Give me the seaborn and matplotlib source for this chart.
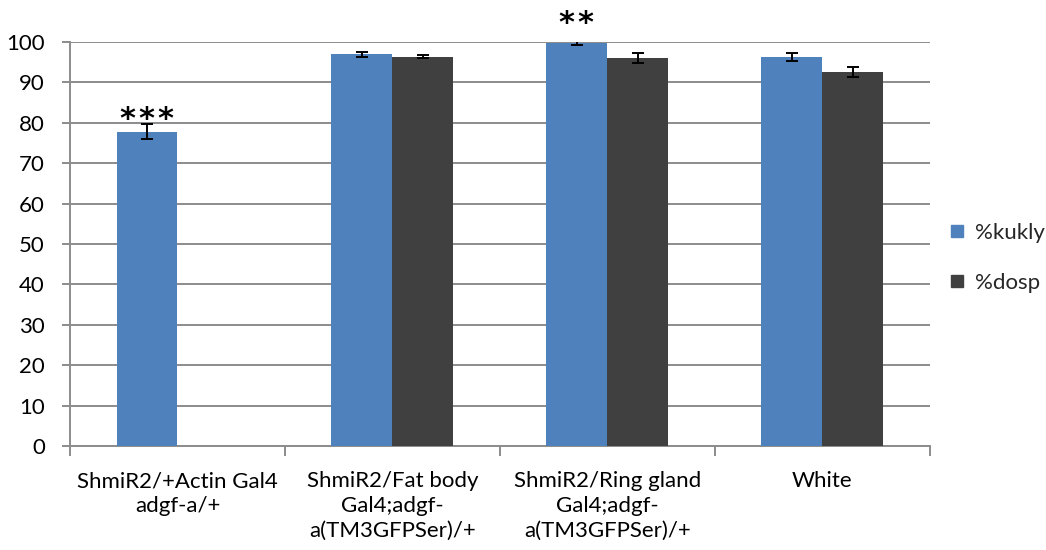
import numpy as np
import pandas as pd
import matplotlib
matplotlib.use("Agg")
import matplotlib.pyplot as plt
from matplotlib.lines import Line2D
import seaborn as sns

# Genotype groups (x axis) and the two measured percentages
categories = [
    "ShmiR2/+Actin Gal4\nadgf-a/+",
    "ShmiR2/Fat body\nGal4;adgf-\na(TM3GFPSer)/+",
    "ShmiR2/Ring gland\nGal4;adgf-\na(TM3GFPSer)/+",
    "White",
]
series = ["%kukly", "%dosp"]
kukly = [77.8, 97.0, 99.8, 96.4]
kukly_err = [1.9, 0.6, 0.5, 1.0]
dosp = [np.nan, 96.4, 96.1, 92.6]
dosp_err = [np.nan, 0.3, 1.3, 1.3]
stars = ["***", "", "**", ""]

colors = {"%kukly": "#4F81BD", "%dosp": "#404040"}
grid_color = "#8C8C8C"
fs = 16
# vertical offset of each significance mark above its error bar (data units)
star_lift = [-2.5, 0.0, 0.6, 0.0]

sns.set_theme(style="white")
plt.rcParams["font.family"] = ["Lato", "DejaVu Sans"]

df = pd.DataFrame({
    "group": categories * 2,
    "series": [series[0]] * 4 + [series[1]] * 4,
    "value": kukly + dosp,
    "err": kukly_err + dosp_err,
})

fig = plt.figure(figsize=(10.46, 5.5), dpi=100)
ax = fig.add_axes([0.0669, 0.189, 0.822, 0.7346])

sns.barplot(data=df, x="group", y="value", hue="series", order=categories,
            hue_order=series, palette=colors, width=0.567, saturation=1,
            errorbar=None, legend=False, ax=ax, zorder=3, linewidth=0)

# Error bars drawn at each bar centre from the listed errors
err_lookup = {series[0]: (kukly, kukly_err), series[1]: (dosp, dosp_err)}
for s, container in zip(series, ax.containers):
    vals, errs = err_lookup[s]
    for bar in container:
        cx = bar.get_x() + bar.get_width() / 2
        i = int(round(cx))
        if np.isnan(vals[i]):
            continue
        ax.errorbar(cx, vals[i], yerr=errs[i], fmt="none", ecolor="black",
                    elinewidth=1.4, capsize=4, capthick=1.4, zorder=4)
        if s == series[0] and stars[i]:
            ax.text(cx, vals[i] + errs[i] + star_lift[i],
                    "\u200a".join(stars[i]), ha="center",
                    va="bottom", fontsize=22, fontweight="bold",
                    color="black", family="DejaVu Sans", clip_on=False)

ax.set_xlim(-0.5, len(categories) - 0.5)
ax.set_ylim(0, 100)
ax.set_yticks(np.arange(0, 101, 10))
ax.yaxis.grid(True, color=grid_color, linewidth=1.4, zorder=0)
ax.set_axisbelow(True)

ax.set_xlabel("")
ax.set_ylabel("")
ax.set_xticks(np.arange(len(categories)))
ax.set_xticklabels(categories, fontsize=fs, color="black", linespacing=1.3)
ax.tick_params(axis="x", length=0, pad=18)
ax.tick_params(axis="y", labelsize=fs, colors="black", length=6,
               width=1.4, color=grid_color, left=True, pad=12)

# Boundary ticks between groups on the category axis
ax.set_xticks(np.arange(-0.5, len(categories)), minor=True)
ax.tick_params(axis="x", which="minor", length=7, width=1.4,
               color=grid_color, bottom=True)

for side in ["top", "right"]:
    ax.spines[side].set_visible(False)
for side in ["left", "bottom"]:
    ax.spines[side].set_color(grid_color)
    ax.spines[side].set_linewidth(1.4)

handles = [Line2D([], [], marker="s", linestyle="none", markersize=8.6,
                  markerfacecolor=colors[s], markeredgecolor=colors[s])
           for s in series]
fig.legend(handles, series, loc="center left", bbox_to_anchor=(0.906, 0.531),
           bbox_transform=fig.transFigure, frameon=False, fontsize=fs,
           labelspacing=1.35, handletextpad=0.45, handlelength=0.8,
           borderpad=0, borderaxespad=0)

fig.savefig("out.png", dpi=100)
